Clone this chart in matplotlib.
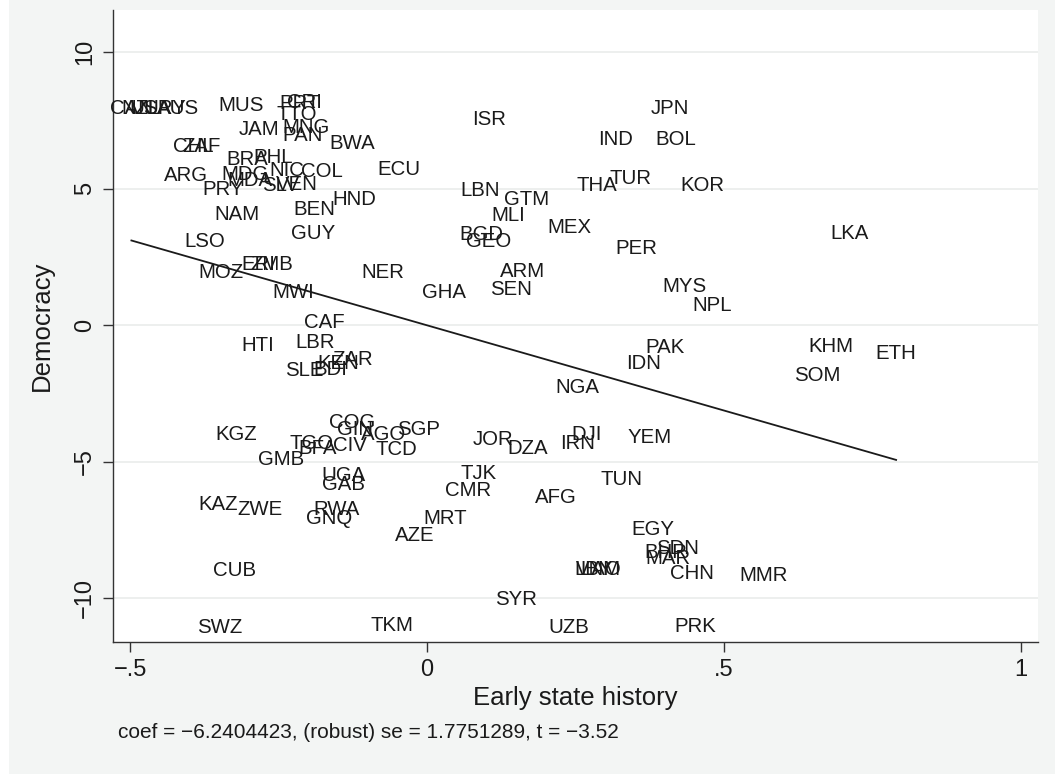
import numpy as np
import matplotlib
matplotlib.use("Agg")
from matplotlib import pyplot as plt
from matplotlib.patches import Rectangle

plt.rcParams['font.family'] = ['Liberation Sans', 'DejaVu Sans']

# country codes and their positions (early state history residual, democracy residual)
codes = ['CAN', 'NZL', 'USA', 'URY', 'AUS', 'MUS', 'PRT', 'CRI', 'TTO', 'JAM',
         'MNG', 'PAN', 'BWA', 'CHL', 'ZAF', 'BRA', 'PHL', 'NIC', 'COL', 'ECU',
         'ARG', 'MDG', 'MDA', 'PRY', 'SLV', 'VEN', 'HND', 'NAM', 'BEN', 'GUY',
         'LSO', 'ERI', 'ZMB', 'MOZ', 'NER', 'MWI', 'GHA', 'CAF', 'HTI', 'LBR',
         'KEN', 'ZAR', 'SLE', 'BDI', 'KGZ', 'COG', 'GIN', 'AGO', 'SGP', 'TGO',
         'BFA', 'CIV', 'TCD', 'GMB', 'UGA', 'GAB', 'KAZ', 'ZWE', 'RWA', 'GNQ',
         'MRT', 'AZE', 'CUB', 'SWZ', 'TKM', 'ISR', 'JPN', 'IND', 'BOL', 'TUR',
         'THA', 'KOR', 'LBN', 'GTM', 'MLI', 'MEX', 'BGD', 'GEO', 'PER', 'LKA',
         'ARM', 'SEN', 'MYS', 'NPL', 'PAK', 'IDN', 'KHM', 'ETH', 'SOM', 'NGA',
         'JOR', 'DZA', 'IRN', 'DJI', 'YEM', 'TJK', 'CMR', 'AFG', 'TUN', 'EGY',
         'SDN', 'BHR', 'MAR', 'CHN', 'MMR', 'LBY', 'VNM', 'LAO', 'SYR', 'UZB',
         'PRK']

state_hist = [-0.498, -0.483, -0.466, -0.441, -0.419, -0.313, -0.215, -0.207, -0.219, -0.283,
              -0.204, -0.210, -0.126, -0.394, -0.380, -0.303, -0.259, -0.237, -0.177, -0.047,
              -0.406, -0.306, -0.298, -0.343, -0.247, -0.219, -0.123, -0.320, -0.190, -0.192,
              -0.375, -0.285, -0.261, -0.347, -0.074, -0.226, 0.029, -0.173, -0.286, -0.189,
              -0.150, -0.126, -0.207, -0.163, -0.322, -0.126, -0.121, -0.074, -0.015, -0.194,
              -0.184, -0.130, -0.051, -0.246, -0.140, -0.140, -0.352, -0.281, -0.152, -0.165,
              0.030, -0.020, -0.325, -0.350, -0.059, 0.104, 0.409, 0.318, 0.419, 0.342,
              0.286, 0.463, 0.089, 0.167, 0.136, 0.239, 0.091, 0.104, 0.352, 0.712,
              0.160, 0.141, 0.433, 0.480, 0.401, 0.364, 0.680, 0.790, 0.657, 0.254,
              0.111, 0.170, 0.253, 0.269, 0.375, 0.086, 0.069, 0.217, 0.327, 0.380,
              0.421, 0.402, 0.406, 0.446, 0.567, 0.281, 0.288, 0.293, 0.150, 0.239,
              0.451]

democracy = [8.02, 8.02, 8.02, 8.02, 8.02, 8.13, 8.21, 8.24, 7.80, 7.25,
             7.33, 7.03, 6.74, 6.63, 6.63, 6.15, 6.23, 5.75, 5.71, 5.79,
             5.57, 5.60, 5.38, 5.05, 5.20, 5.24, 4.69, 4.14, 4.32, 3.44,
             3.15, 2.31, 2.31, 2.01, 2.01, 1.28, 1.28, 0.18, -0.66, -0.55,
             -1.32, -1.17, -1.58, -1.54, -3.92, -3.48, -3.74, -3.92, -3.74, -4.25,
             -4.43, -4.32, -4.47, -4.84, -5.42, -5.75, -6.48, -6.67, -6.67, -7.00,
             -7.00, -7.62, -8.90, -10.99, -10.92, 7.62, 8.02, 6.89, 6.89, 5.46,
             5.20, 5.20, 5.02, 4.69, 4.10, 3.66, 3.41, 3.15, 2.89, 3.44,
             2.05, 1.39, 1.50, 0.81, -0.73, -1.32, -0.70, -0.95, -1.76, -2.20,
             -4.10, -4.43, -4.25, -3.92, -4.03, -5.35, -5.97, -6.23, -5.57, -7.40,
             -8.10, -8.24, -8.46, -9.01, -9.08, -8.86, -8.86, -8.86, -9.96, -10.99,
             -10.95]

coef = -6.2404423
intercept = 0.0
note = "coef = \u22126.2404423, (robust) se = 1.7751289, t = \u22123.52"

xticks = [-0.5, 0, 0.5, 1]
xticklabels = ['\u2212.5', '0', '.5', '1']
yticks = [-10, -5, 0, 5, 10]
yticklabels = ['\u221210', '\u22125', '0', '5', '10']

bg = '#f3f5f4'
ink = '#1a1a1a'

fig = plt.figure(figsize=(10.55, 7.74), dpi=100, facecolor=bg)
fig.patches.append(Rectangle((0, 0), 9 / 1055, 1, transform=fig.transFigure,
                             facecolor='white', edgecolor='none', zorder=-1))
ax = fig.add_axes([113 / 1055, 132 / 774, 925 / 1055, 632 / 774])
ax.set_facecolor('white')

x = np.array(state_hist)
ax.set_xlim(-0.529, 1.029)
ax.set_ylim(-11.6, 11.55)

# grid lines
for yt in yticks:
    ax.axhline(yt, color='#eceeed', lw=1.3, zorder=0)

# fitted line over range of x
xl = np.array([x.min(), x.max()])
ax.plot(xl, intercept + coef * xl, color=ink, lw=1.3, zorder=2)

for c, xv, yv in zip(codes, state_hist, democracy):
    ax.annotate(c, (xv, yv), xytext=(0, -5.3), textcoords='offset points',
                ha='center', va='baseline', fontsize=14.7, color=ink, zorder=3)

for s in ['top', 'right']:
    ax.spines[s].set_visible(False)
for s in ['left', 'bottom']:
    ax.spines[s].set_color('#333333')
    ax.spines[s].set_linewidth(1.0)

ax.set_xticks(xticks)
ax.set_xticklabels(xticklabels, fontsize=17, color=ink)
ax.set_yticks(yticks)
ax.set_yticklabels(yticklabels, fontsize=17, color=ink, rotation=90, va='center')
ax.tick_params(axis='both', length=7.2, width=1.0, color='#333333', direction='out')
ax.tick_params(axis='x', pad=5)
ax.tick_params(axis='y', pad=5)

ax.set_xlabel('Early state history', fontsize=18.5, color=ink, va='center')
ax.xaxis.set_label_coords(0.5, -0.0886)
ax.set_ylabel('Democracy', fontsize=18.5, color=ink, va='center')
ax.yaxis.set_label_coords(-0.077, 0.5)

fig.text(118 / 1055, 1 - 733 / 774, note, fontsize=15, color=ink, ha='left', va='center')

fig.savefig('out.png', dpi=100, facecolor=bg)
